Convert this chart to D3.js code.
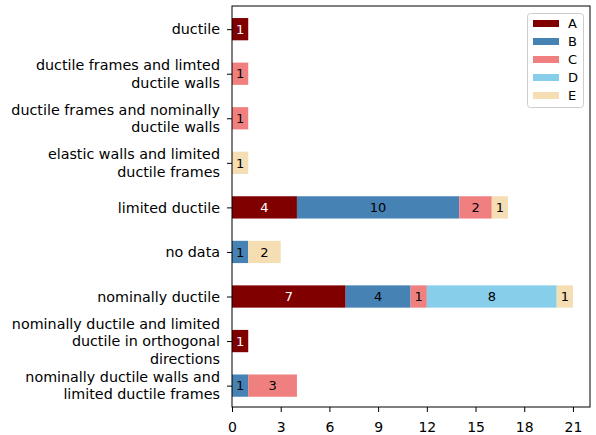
<!DOCTYPE html>
<html><head><meta charset="utf-8">
<script src="https://cdn.jsdelivr.net/npm/d3@7"></script>
<style>body{margin:0;background:#fff}svg{display:block}text{font-family:"DejaVu Sans",sans-serif}</style>
</head><body><svg id="c" width="596" height="435"></svg>
<script>
const categories = [
  "ductile",
  "ductile frames and limted\nductile walls",
  "ductile frames and nominally\nductile walls",
  "elastic walls and limited\nductile frames",
  "limited ductile",
  "no data",
  "nominally ductile",
  "nominally ductile and limited\nductile in orthogonal\ndirections",
  "nominally ductile walls and\nlimited ductile frames"
];
const seriesNames = ["A", "B", "C", "D", "E"];
const A = [1, 0, 0, 0, 4, 0, 7, 1, 0];
const B = [0, 0, 0, 0, 10, 1, 4, 0, 1];
const C = [0, 1, 1, 0, 2, 0, 1, 0, 3];
const D = [0, 0, 0, 0, 0, 0, 8, 0, 0];
const E = [0, 0, 0, 1, 1, 2, 1, 0, 0];
const colors = ["#800000", "#4682b4", "#f08080", "#87ceeb", "#f5deb3"];
const labelColors = ["#fff", "#000", "#000", "#000", "#000"];
const xTicks = [0, 3, 6, 9, 12, 15, 18, 21];

const svg = d3.select("#c");
const L = 232, R = 590, T = 6, Bm = 407;
const x = d3.scaleLinear().domain([0, 22.05]).range([L, R]);
const y = d3.scaleLinear().domain([-0.52, 8.48]).range([T, Bm]);
const bh = y(0.25) - y(-0.25);

const rows = categories.map((c, i) => ({cat: c, i, A: A[i], B: B[i], C: C[i], D: D[i], E: E[i]}));
const stack = d3.stack().keys(seriesNames)(rows);

stack.forEach((s, k) => {
  const g = svg.append("g");
  s.forEach((d, i) => {
    const v = d[1] - d[0];
    if (v <= 0) return;
    g.append("rect").attr("x", x(d[0])).attr("y", y(i) - bh / 2)
      .attr("width", x(d[1]) - x(d[0])).attr("height", bh).attr("fill", colors[k]);
    g.append("text").attr("x", (x(d[0]) + x(d[1])) / 2).attr("y", y(i))
      .attr("dy", "0.36em").attr("text-anchor", "middle").attr("font-size", 13)
      .attr("fill", labelColors[k]).text(v);
  });
});

// axes frame
svg.append("rect").attr("x", L).attr("y", T).attr("width", R - L).attr("height", Bm - T)
  .attr("fill", "none").attr("stroke", "#000").attr("stroke-width", 1);

// x axis
const xAxis = d3.axisBottom(x).tickValues(xTicks).tickSize(5).tickPadding(3);
const gx = svg.append("g").attr("transform", `translate(0,${Bm})`).call(xAxis);
gx.select(".domain").remove();
gx.selectAll("text").attr("font-size", 14).attr("fill", "#000").attr("font-family", "DejaVu Sans")
  .attr("y", 25).attr("dy", "0");

// y axis
const yAxis = d3.axisLeft(y).tickValues(d3.range(categories.length)).tickSize(5).tickFormat(() => "");
const gy = svg.append("g").attr("transform", `translate(${L},0)`).call(yAxis);
gy.select(".domain").remove();
categories.forEach((c, i) => {
  const lines = c.split("\n");
  const lh = 17.3;
  const t = svg.append("text").attr("text-anchor", "end").attr("font-size", 14.3).attr("fill", "#000");
  lines.forEach((ln, j) => {
    t.append("tspan").attr("x", L - 12).attr("y", y(i) + (j - (lines.length - 1) / 2) * lh).attr("dy", "0.36em").text(ln);
  });
});

// legend
const lg = svg.append("g");
lg.append("rect").attr("x", 527.5).attr("y", 13.5).attr("width", 56).attr("height", 94)
  .attr("rx", 3).attr("fill", "#fff").attr("fill-opacity", 0.8).attr("stroke", "#ccc");
seriesNames.forEach((n, k) => {
  const yy = 23.5 + k * 18;
  lg.append("rect").attr("x", 533).attr("y", yy - 3.5).attr("width", 26).attr("height", 7).attr("fill", colors[k]);
  lg.append("text").attr("x", 568).attr("y", yy).attr("dy", "0.36em").attr("font-size", 13).text(n);
});
</script></body></html>
